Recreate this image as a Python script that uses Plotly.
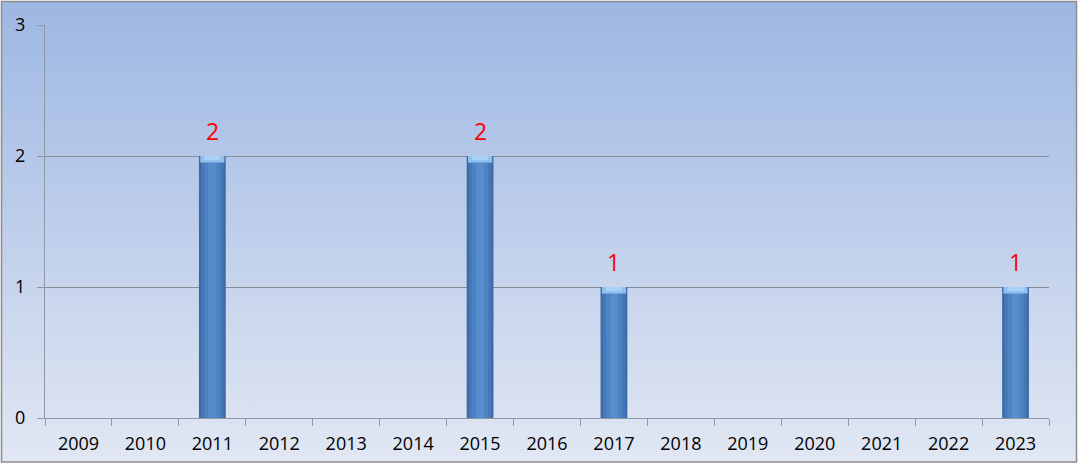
import plotly.graph_objects as go

years = [str(y) for y in range(2009, 2024)]
counts = [0, 0, 2, 0, 0, 0, 2, 0, 1, 0, 0, 0, 0, 0, 1]
y_ticks = [0, 1, 2, 3]

W, H = 1080, 467
L, R, T, B = 45, 31, 25, 49
pw, ph = W - L - R, H - T - B


def px_x(p):
    return (p - L) / pw


def px_y(p):
    return (H - B - p) / ph


svg = (
    "data:image/svg+xml;utf8,"
    "<svg xmlns='http://www.w3.org/2000/svg' width='100' height='100' preserveAspectRatio='none'>"
    "<defs><linearGradient id='g' x1='0' y1='0' x2='0' y2='1'>"
    "<stop offset='0' stop-color='%239db7e3'/>"
    "<stop offset='1' stop-color='%23e1e7f3'/>"
    "</linearGradient></defs>"
    "<rect width='100' height='100' fill='url(%23g)'/></svg>"
)

fig = go.Figure()

# cylindrical bar look via layered bars
layers = [
    (0.40, "#3a69a3"),
    (0.34, "#4677b6"),
    (0.24, "#4d82c3"),
    (0.12, "#578ccd"),
]
for w, c in layers:
    fig.add_trace(go.Bar(
        x=years, y=counts, width=[w] * len(years),
        marker=dict(color=c, line=dict(width=0)),
        hoverinfo="skip", showlegend=False,
    ))

# top cap highlight (tapering light bands)
for h, w, c in [(0.05, 0.36, "#8fc0ee"), (0.03, 0.24, "#a9d3f6")]:
    fig.add_trace(go.Bar(
        x=years, y=[h] * len(years), base=[v - h for v in counts],
        width=[w] * len(years),
        marker=dict(color=c, line=dict(width=0)),
        hoverinfo="skip", showlegend=False,
    ))

for i, v in enumerate(counts):
    if v:
        fig.add_annotation(
            x=i, y=v, text=str(v), showarrow=False, yanchor="middle", yshift=25,
            font=dict(family="Open Sans", size=23, color="#ff0000"),
        )

fig.add_layout_image(
    source=svg, xref="paper", yref="paper",
    x=px_x(1.5), y=px_y(1.5), sizex=px_x(1076.5) - px_x(1.5), sizey=px_y(1.5) - px_y(462),
    xanchor="left", yanchor="top", sizing="stretch", layer="below",
)

fig.add_shape(
    type="rect", xref="paper", yref="paper",
    x0=px_x(1.5), x1=px_x(1076.5), y0=px_y(462), y1=px_y(1.5),
    line=dict(color="#8c8c8c", width=1.5), layer="above",
)

fig.update_layout(
    width=W, height=H,
    margin=dict(l=L, r=R, t=T, b=B),
    paper_bgcolor="white", plot_bgcolor="rgba(0,0,0,0)",
    barmode="overlay", showlegend=False,
    font=dict(family="Open Sans", size=18, color="black"),
)
fig.update_xaxes(
    type="category", categoryorder="array", categoryarray=years,
    range=[-0.5, len(years) - 0.5], automargin=False, tickangle=0,
    tickson="boundaries", ticks="outside", ticklen=7, tickcolor="#8e97a5",
    showline=True, linecolor="#8e97a5", linewidth=1, showgrid=False,
    tickfont=dict(size=18), ticklabelstandoff=9,
)
fig.update_yaxes(
    range=[0, 3], tickvals=y_ticks, ticks="outside", ticklen=7, tickcolor="#8e97a5",
    showline=True, linecolor="#8e97a5", linewidth=1, automargin=False,
    showgrid=True, gridcolor="#878c96", gridwidth=1, zeroline=False,
    tickfont=dict(size=18), ticklabelstandoff=8,
)

fig.write_html(
    "out.html",
    config={"displayModeBar": False},
    post_script="document.body.style.margin='0';",
)
